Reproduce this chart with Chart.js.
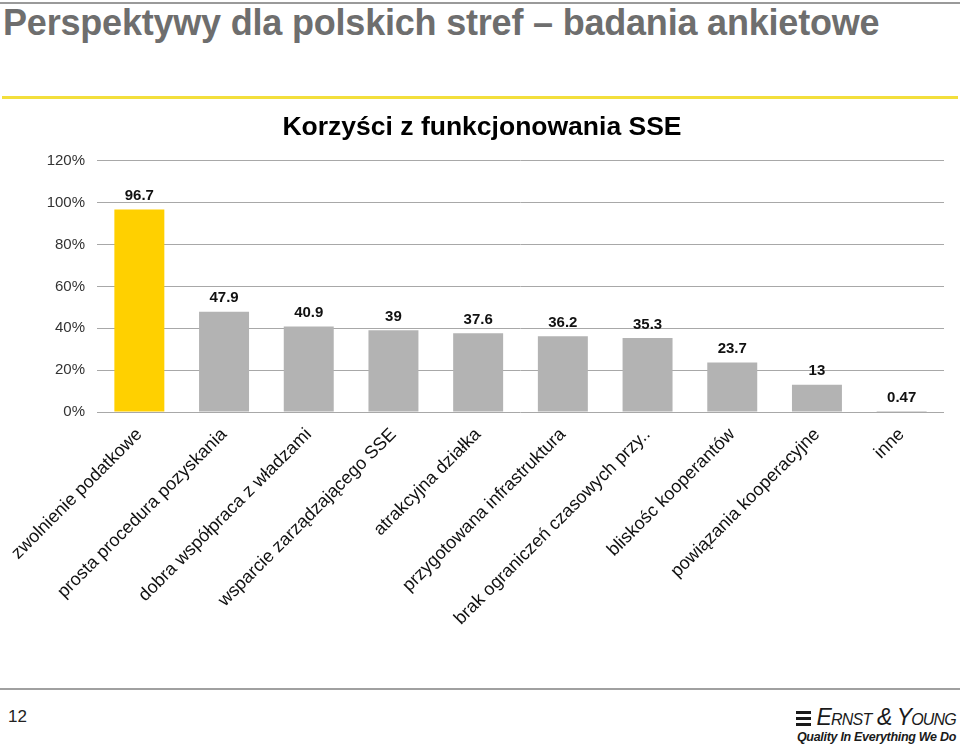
<!DOCTYPE html>
<html>
<head>
<meta charset="utf-8">
<script src="https://cdn.jsdelivr.net/npm/chart.js@4.4.1/dist/chart.umd.min.js"></script>
<style>
  html, body { margin: 0; padding: 0; background: #fff; }
  body { width: 960px; height: 745px; position: relative; overflow: hidden; font-family: "Liberation Sans", Arial, sans-serif; }
  .topline { position: absolute; left: 0; top: 2px; width: 960px; height: 2px; background: #9a9a9a; }
  .slide-title { position: absolute; left: 3px; top: 2px; font-family: "Liberation Sans Narrow", "Liberation Sans", sans-serif; font-weight: bold; font-size: 36px; color: #6e6e6e; white-space: nowrap; letter-spacing: -0.2px; }
  .yellow { position: absolute; left: 2px; top: 96px; width: 956px; height: 3px; background: #f3df3c; }
  #wrap { position: absolute; left: 0; top: 105px; width: 960px; height: 522px; }
  .bottomline { position: absolute; left: 0; top: 688px; width: 960px; height: 2px; background: #a0a0a0; }
  .pagenum { position: absolute; left: 8px; top: 707px; font-size: 17px; color: #222; }
  .logo { position: absolute; right: 4px; top: 705px; text-align: right; color: #1a1a1a; }
  .logo .name { font-family: "Liberation Sans Narrow", sans-serif; font-style: italic; font-size: 23px; font-variant: small-caps; letter-spacing: -0.8px; line-height: 24px; }
  .logo .mark { display: inline-block; width: 15px; height: 15px; margin-right: 5px; vertical-align: -1px;
    background: repeating-linear-gradient(#1a1a1a 0 3px, transparent 3px 6px); }
  .logo .tag { font-family: "Liberation Sans Narrow", sans-serif; font-style: italic; font-weight: bold; font-size: 12.5px; line-height: 16px; letter-spacing: -0.3px; }
</style>
</head>
<body>
<div class="topline"></div>
<div class="slide-title">Perspektywy dla polskich stref – badania ankietowe</div>
<div class="yellow"></div>
<div id="wrap"><canvas id="chart"></canvas></div>
<div class="bottomline"></div>
<div class="pagenum">12</div>
<div class="logo"><div class="name"><span class="mark"></span>Ernst &amp; Young</div><div class="tag">Quality In Everything We Do</div></div>

<script>
// dane z ankiety
const categories = [
    'zwolnienie podatkowe',
    'prosta procedura pozyskania',
    'dobra współpraca z władzami',
    'wsparcie zarządzającego SSE',
    'atrakcyjna działka',
    'przygotowana infrastruktura',
    'brak ograniczeń czasowych przy..',
    'bliskośc kooperantów',
    'powiązania kooperacyjne',
    'inne'
];
const values = [96.7, 47.9, 40.9, 39, 37.6, 36.2, 35.3, 23.7, 13, 0.47];
const yTicks = [0, 20, 40, 60, 80, 100, 120];

const barColors = values.map((_, i) => i === 0 ? '#ffd000' : '#b3b3b3');

// etykiety wartości nad słupkami
const valueLabels = {
    id: 'valueLabels',
    afterDatasetsDraw(chart) {
        const ctx = chart.ctx;
        const meta = chart.getDatasetMeta(0);
        ctx.save();
        ctx.font = 'bold 15px "Liberation Sans", Arial, sans-serif';
        ctx.fillStyle = '#111';
        ctx.textAlign = 'center';
        ctx.textBaseline = 'bottom';
        meta.data.forEach((bar, i) => {
            ctx.fillText(String(values[i]), bar.x, bar.y - 6);
        });
        ctx.restore();
    }
};

new Chart(document.getElementById('chart'), {
    type: 'bar',
    data: {
        labels: categories,
        datasets: [{
            data: values,
            backgroundColor: barColors,
            borderWidth: 0,
            barPercentage: 0.59,
            categoryPercentage: 1
        }]
    },
    options: {
        responsive: true,
        maintainAspectRatio: false,
        animation: false,
        layout: { padding: { left: 20, right: 16, top: 0, bottom: 0 } },
        plugins: {
            legend: { display: false },
            tooltip: { enabled: false },
            title: {
                display: true,
                text: 'Korzyści z funkcjonowania SSE',
                color: '#000',
                font: { family: '"Liberation Sans", Arial, sans-serif', size: 26.5, weight: 'bold' },
                padding: { top: 7, bottom: 17 }
            }
        },
        scales: {
            x: {
                grid: { display: false },
                border: { display: false },
                ticks: {
                    color: '#111',
                    font: { family: '"Liberation Sans", Arial, sans-serif', size: 18 },
                    minRotation: 45,
                    maxRotation: 45,
                    autoSkip: false,
                    padding: 4
                },
                afterFit(scale) { scale.height = 215; }
            },
            y: {
                min: 0,
                max: 120,
                afterBuildTicks(scale) { scale.ticks = yTicks.map(v => ({ value: v })); },
                grid: { color: '#a8a8a8', lineWidth: 1, drawTicks: false },
                border: { display: false },
                ticks: {
                    color: '#333',
                    font: { family: '"Liberation Sans", Arial, sans-serif', size: 15 },
                    padding: 12,
                    callback: v => v + '%'
                },
                afterFit(scale) { scale.width = 77; }
            }
        }
    },
    plugins: [valueLabels]
});
</script>
</body>
</html>
